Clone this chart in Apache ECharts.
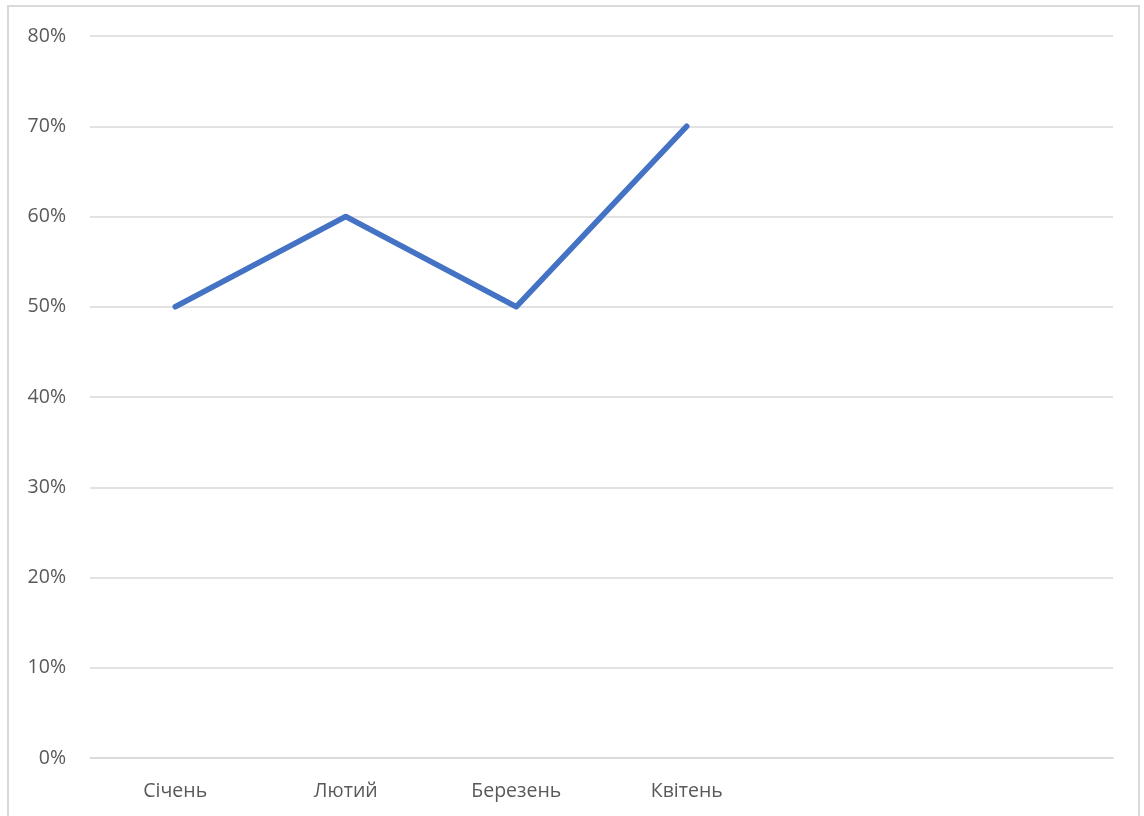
<!DOCTYPE html>
<html>
<head>
<meta charset="utf-8">
<script src="https://cdn.jsdelivr.net/npm/echarts@6/dist/echarts.min.js"></script>
<style>
  html, body { margin: 0; padding: 0; background: #fff; }
  #frame { position: absolute; left: 7px; top: 5px; width: 1133px; height: 830px; border: 2px solid #d9d9d9; box-sizing: border-box; }
  #chart { position: absolute; left: 0; top: 0; width: 1144px; height: 816px; }
</style>
</head>
<body>
<div id="frame"></div>
<div id="chart"></div>
<script>
// місяці (останні дві категорії порожні)
var months = ['Січень', 'Лютий', 'Березень', 'Квітень', '', ''];
// значення у відсотках
var values = [50, 60, 50, 70, null, null];
var yTicks = [0, 10, 20, 30, 40, 50, 60, 70, 80];

var myChart = echarts.init(document.getElementById('chart'));
var option = {
  animation: false,
  grid: { left: 90, right: 31, top: 36, bottom: 58, containLabel: false },
  xAxis: {
    type: 'category',
    data: months,
    boundaryGap: true,
    axisLine: { show: true, lineStyle: { color: '#d9d9d9', width: 1.5 } },
    axisTick: { show: false },
    axisLabel: {
      color: '#595959',
      fontSize: 19.5,
      fontFamily: 'Open Sans',
      margin: 23,
      interval: 0
    }
  },
  yAxis: {
    type: 'value',
    min: yTicks[0],
    max: yTicks[yTicks.length - 1],
    interval: 10,
    axisLine: { show: false },
    axisTick: { show: false },
    splitLine: { lineStyle: { color: '#d9d9d9', width: 1.5 } },
    axisLabel: {
      color: '#595959',
      fontSize: 19.5,
      fontFamily: 'Open Sans',
      margin: 24,
      formatter: '{value}%'
    }
  },
  series: [{
    type: 'line',
    data: values,
    symbol: 'none',
    lineStyle: { color: '#4472c4', width: 5.5, cap: 'round', join: 'round' },
    itemStyle: { color: '#4472c4' }
  }]
};
myChart.setOption(option);
</script>
</body>
</html>
